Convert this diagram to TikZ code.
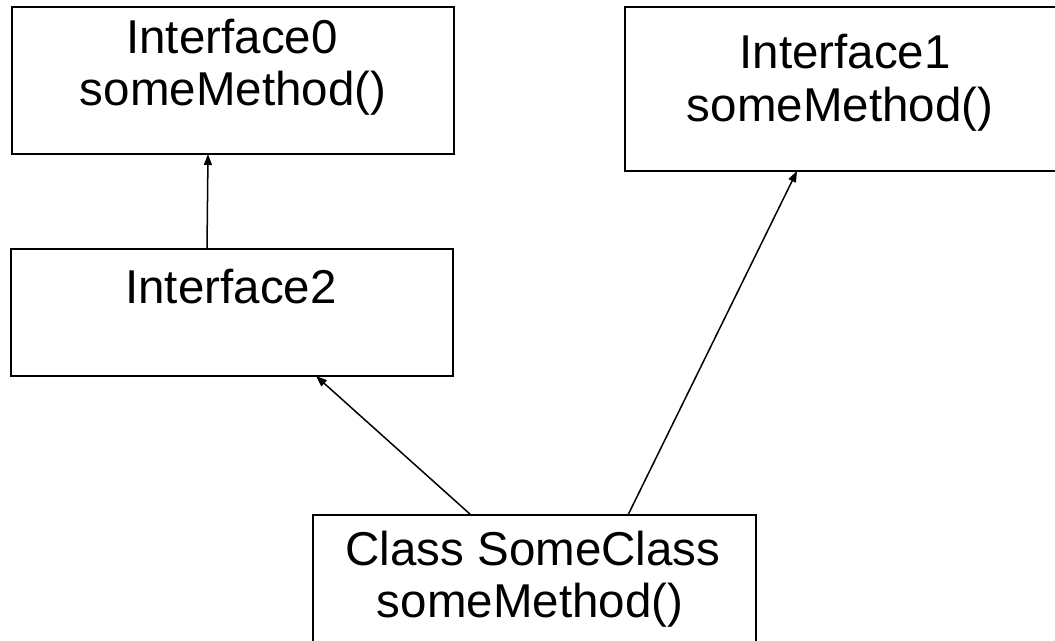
\documentclass[tikz,border=0pt]{standalone}
\usepackage{fontspec}
\setmainfont{Liberation Sans}
\usetikzlibrary{arrows.meta}
\begin{document}
\begin{tikzpicture}[x=1pt,y=-1pt,
  umlbox/.style={draw, line width=2pt, inner sep=0pt, outer sep=0pt, anchor=north west},
  lbl/.style={inner sep=0pt, anchor=base, font=\fontsize{47.5}{52}\selectfont},
  inherit/.style={line width=1.5pt, -{Triangle[length=11pt,width=8pt]}}]
\useasboundingbox (0,0) rectangle (1055,640);
\node[umlbox, minimum width=442pt, minimum height=147pt] (i0) at (12,7) {};
\node[umlbox, minimum width=434pt, minimum height=164pt] (i1) at (625,7) {};
\node[umlbox, minimum width=442pt, minimum height=127pt] (i2) at (11,249) {};
\node[umlbox, minimum width=443pt, minimum height=140pt] (cls) at (313,515) {};
\node[lbl] (i0a) at (232,53) {Interface0};
\node[lbl] (i0b) at (233,105) {someMethod()};
\node[lbl] (i1a) at (845,68) {Interface1};
\node[lbl] (i1b) at (840,121) {someMethod()};
\node[lbl] (i2a) at (231,303) {Interface2};
\node[lbl] (clsa) at (533,565) {Class SomeClass};
\node[lbl] (clsb) at (530,617) {someMethod()};
\draw[inherit] ([xshift=196pt]i2.north west) -- ([xshift=196pt]i0.south west);
\draw[inherit] ([xshift=158pt]cls.north west) -- ([xshift=305pt]i2.south west);
\draw[inherit] ([xshift=315pt]cls.north west) -- ([xshift=172pt]i1.south west);
\end{tikzpicture}
\end{document}
